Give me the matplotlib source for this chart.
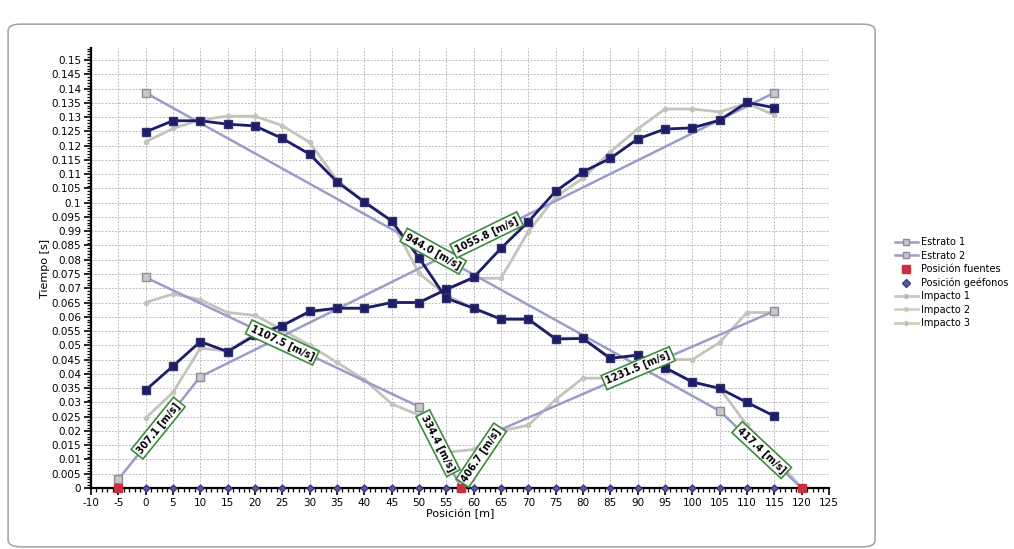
import matplotlib
matplotlib.use("Agg")
import matplotlib.pyplot as plt
from matplotlib.patches import FancyBboxPatch
from matplotlib.lines import Line2D
from matplotlib.ticker import MultipleLocator, AutoMinorLocator

plt.rcParams["axes.unicode_minus"] = False

# --- data ---
POS = list(range(0, 120, 5))  # geophone positions 0..115

# dark navy travel-time picks
pick_fwd = [0.0343, 0.0427, 0.0513, 0.0478, 0.0535, 0.0569, 0.0619, 0.0630,
            0.0630, 0.0650, 0.0650, 0.0696, 0.0738, 0.0840, 0.0933, 0.1040,
            0.1108, 0.1155, 0.1223, 0.1258, 0.1262, 0.1289, 0.1351, 0.1333]
pick_rev = [0.1248, 0.1287, 0.1287, 0.1275, 0.1269, 0.1225, 0.1170, 0.1073,
            0.1003, 0.0936, 0.0807, 0.0665, 0.0630, 0.0592, 0.0592, 0.0522,
            0.0524, 0.0454, 0.0466, 0.0422, 0.0372, 0.0349, 0.0300, 0.0252]

# gray impacts
imp1 = [0.0245, 0.0335, 0.0490, 0.0480, 0.0540, 0.0570, 0.0615, 0.0630,
        0.0630, 0.0650, 0.0650, 0.0695, 0.0735, 0.0735, 0.0898, 0.1020,
        0.1085, 0.1178, 0.1258, 0.1328, 0.1328, 0.1318, 0.1348, 0.1307]
imp2 = [0.0650, 0.0680, 0.0660, 0.0615, 0.0605, 0.0555, 0.0500, 0.0440,
        0.0380, 0.0295, 0.0255, 0.0125, 0.0135, 0.0200, 0.0220, 0.0310,
        0.0385, 0.0385, 0.0445, 0.0450, 0.0450, 0.0510, 0.0615, 0.0615]
imp3_x = POS + [120]
imp3 = [0.1213, 0.1260, 0.1290, 0.1303, 0.1303, 0.1270, 0.1211, 0.1080,
        0.1000, 0.0936, 0.0752, 0.0675, 0.0630, 0.0590, 0.0590, 0.0525,
        0.0525, 0.0455, 0.0465, 0.0420, 0.0370, 0.0350, 0.0220, 0.0110, 0.0]

# layer fit segments (x0, t0, x1, t1)
estrato1 = [(-5, 0.003, 10, 0.039), (50, 0.0285, 57.7, 0.0),
            (57.7, 0.0, 65, 0.0205), (105, 0.027, 120, 0.0)]
estrato2 = [(10, 0.039, 115, 0.1385), (0, 0.1385, 105, 0.027),
            (0, 0.0738, 50, 0.0285), (65, 0.0205, 115, 0.062)]
estrato_pts_x = [-5, 10, 0, 115, 0, 50, 105, 115]
estrato_pts_t = [0.003, 0.039, 0.1385, 0.1385, 0.0738, 0.0285, 0.027, 0.062]

sources = [-5, 57.7, 120]

# velocity labels: text, x, t, display angle
vel_labels = [("307.1 [m/s]", 2.3, 0.0210, 51),
              ("1107.5 [m/s]", 25.0, 0.0510, -25),
              ("944.0 [m/s]", 52.6, 0.0830, -29),
              ("1055.8 [m/s]", 62.4, 0.0887, 26),
              ("334.4 [m/s]", 53.5, 0.0157, -63),
              ("406.7 [m/s]", 61.4, 0.0115, 56),
              ("1231.5 [m/s]", 90.1, 0.0420, 23),
              ("417.4 [m/s]", 112.7, 0.0133, -43)]

yticks = [i * 0.005 for i in range(31)]
ylabels = ["0", "0.005", "0.01", "0.015", "0.02", "0.025", "0.03", "0.035",
           "0.04", "0.045", "0.05", "0.055", "0.06", "0.065", "0.07", "0.075",
           "0.08", "0.085", "0.99", "0.095", "0.1", "0.105", "0.11", "0.115",
           "0.12", "0.125", "0.13", "0.135", "0.14", "0.145", "0.15"]

NAVY = "#1c1c6b"
GRAY = "#c4c4bc"
LAV = "#9c9cca"
SQ = "#c8c8c8"
GREEN = "#3d8b3d"

fig = plt.figure(figsize=(10.14, 5.49), dpi=100)
fig.patches.append(FancyBboxPatch((0.008, 0.004), 0.855, 0.952,
                                  boxstyle="round,pad=0,rounding_size=0.012",
                                  transform=fig.transFigure, fc="none",
                                  ec="#a8a8a8", lw=1.2, zorder=-1))
ax = fig.add_axes([0.0897, 0.1111, 0.7278, 0.8015])
ax.set_facecolor("none")

ax.set_xlim(-10, 125)
ax.set_ylim(0, 0.1542)
ax.xaxis.set_major_locator(MultipleLocator(5))
ax.xaxis.set_minor_locator(AutoMinorLocator(5))
ax.set_yticks(yticks)
ax.set_yticklabels(ylabels)
ax.yaxis.set_minor_locator(AutoMinorLocator(5))
ax.grid(True, which="major", color="#bcbcbc", ls=(0, (2, 1.5)), lw=0.7)
ax.set_axisbelow(True)
for s in ("top", "right"):
    ax.spines[s].set_visible(False)
for s in ("left", "bottom"):
    ax.spines[s].set_linewidth(1.6)
ax.tick_params(which="major", direction="out", length=5, width=1.2, labelsize=7.5, pad=2)
ax.tick_params(which="minor", direction="out", length=3, width=0.9)
ax.set_xlabel("Posición [m]", fontsize=8, labelpad=1)
ax.set_ylabel("Tiempo [s]", fontsize=8, labelpad=1)

# layer segments
for segs in (estrato1, estrato2):
    for x0, t0, x1, t1 in segs:
        ax.plot([x0, x1], [t0, t1], color=LAV, lw=1.8, zorder=3)
ax.plot(estrato_pts_x, estrato_pts_t, ls="none", marker="s",
        ms=6, mfc=SQ, mec="#8c8c9c", mew=1, zorder=4)

# impacts
ax.plot(POS, imp1, color=GRAY, lw=2, marker="o", ms=3, zorder=2)
ax.plot(POS, imp2, color=GRAY, lw=2, marker="o", ms=3, zorder=2)
ax.plot(imp3_x, imp3, color=GRAY, lw=2, marker="o", ms=3, zorder=2)

# picks
ax.plot(POS, pick_fwd, color=NAVY, lw=2, marker="s", ms=6, mec="#30306a", zorder=5)
ax.plot(POS, pick_rev, color=NAVY, lw=2, marker="s", ms=6, mec="#30306a", zorder=5)

# geophones & sources
ax.plot(POS, [0] * len(POS), ls="none", marker="D", ms=3.5, mfc="#5a5aa8",
        mec="#3a3a80", zorder=6, clip_on=False)
ax.plot(sources, [0] * len(sources), ls="none", marker="s", ms=6,
        color="#c83040", zorder=6, clip_on=False)

for txt, x, t, ang in vel_labels:
    ax.text(x, t, txt, rotation=ang, rotation_mode="anchor", ha="center",
            va="center", fontsize=7, fontweight="bold", zorder=8,
            bbox=dict(boxstyle="square,pad=0.25", fc="white", ec=GREEN, lw=1.2))

handles = [
    Line2D([], [], color=LAV, lw=1.8, marker="s", ms=5, mfc=SQ, mec="#8c8c9c"),
    Line2D([], [], color=LAV, lw=1.8, marker="s", ms=5, mfc=SQ, mec="#8c8c9c"),
    Line2D([], [], ls="none", marker="s", ms=6, color="#c83040"),
    Line2D([], [], ls="none", marker="D", ms=4, mfc="#5a5aa8", mec="#3a3a80"),
    Line2D([], [], color="#c8c8d0", lw=2, marker="o", ms=3, mfc="#a8a8c0"),
    Line2D([], [], color="#d4d4c4", lw=2, marker="o", ms=3, mfc="#c0c0a8"),
    Line2D([], [], color="#d0d0b8", lw=2, marker="o", ms=3, mfc="#b8b890"),
]
names = ["Estrato 1", "Estrato 2", "Posición fuentes", "Posición geéfonos",
         "Impacto 1", "Impacto 2", "Impacto 3"]
fig.legend(handles, names, loc="upper left", bbox_to_anchor=(0.879, 0.575),
           frameon=False, fontsize=7.0, handlelength=2.3, handletextpad=0.4,
           labelspacing=0.35, borderaxespad=0)

fig.savefig("out.png", dpi=100)
